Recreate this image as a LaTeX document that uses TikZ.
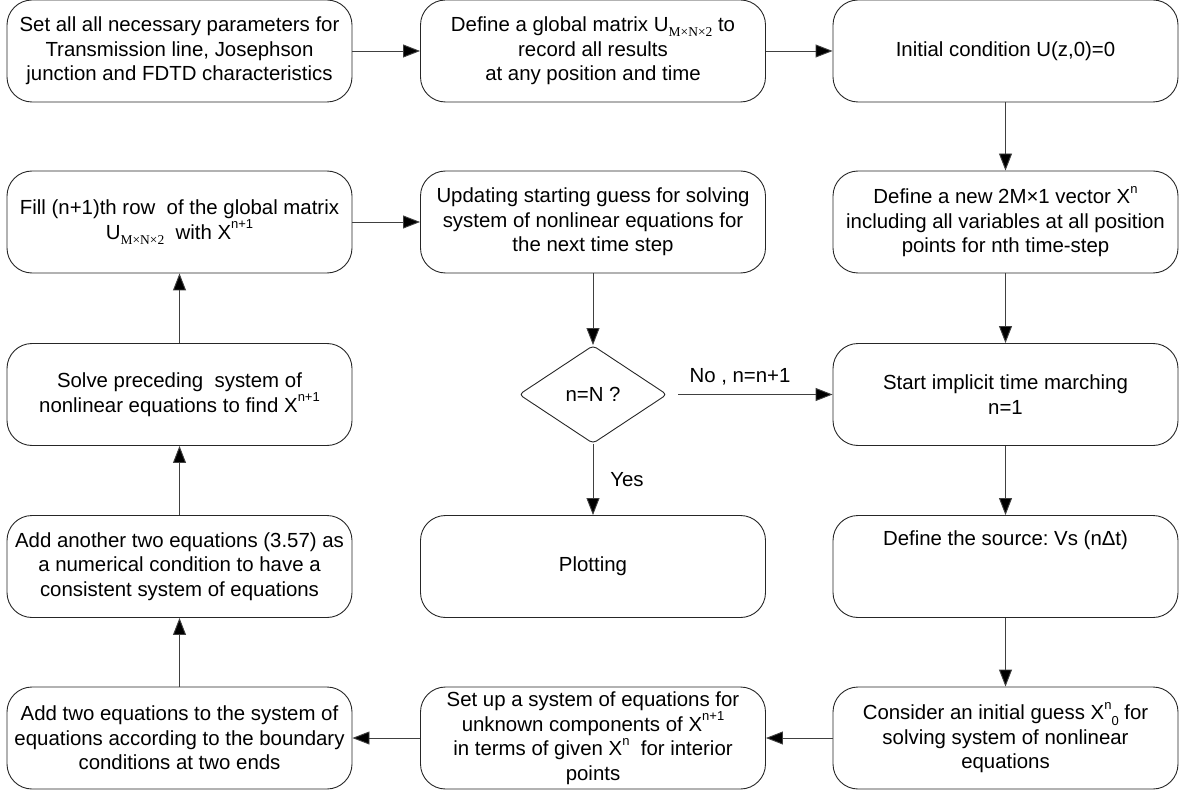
\documentclass[tikz,border=0pt]{standalone}
\usepackage{fontspec}
\setmainfont{Liberation Sans}
\newfontfamily\serifm{Liberation Serif}
\usetikzlibrary{arrows.meta,shapes.geometric}
\frenchspacing

% raised / lowered small text for indices
\newcommand{\sps}[1]{\raisebox{0.5em}{\fontsize{13}{13}\selectfont #1}}
\newcommand{\sbs}[1]{\raisebox{-0.25em}{\fontsize{13}{13}\selectfont #1}}
\newcommand{\umat}{U\raisebox{-0.25em}{\fontsize{13.5}{13.5}\selectfont\serifm M×N×2}}

\begin{document}
\begin{tikzpicture}[x=1pt,y=-1pt,
  txt/.style={font=\fontsize{20.4}{24.5}\selectfont},
  stepbox/.style={txt, draw=black!85, line width=0.9pt, rounded corners=25pt,
    minimum height=102pt, minimum width=345pt, inner sep=1pt, align=center},
  decision/.style={txt, diamond, draw=black!85, line width=0.9pt, rounded corners=4pt,
    minimum width=148pt, minimum height=98pt, inner sep=0pt},
  flow/.style={draw=black!75, line width=0.9pt, -{Triangle[length=17pt,width=13pt,fill=black]}},
  lbl/.style={txt, inner sep=0pt}
]
\useasboundingbox (0,0) rectangle (1183,794);

% left column
\node[stepbox] (params) at (179.5,51) {Set all all necessary parameters for\\Transmission line, Josephson\\junction and FDTD characteristics};
\node[stepbox] (fill) at (179.5,222) {Fill (n+1)th row\ \ of the global matrix\\\umat\ \ with X\sps{n+1}};
\node[stepbox] (solve) at (179.5,394.5) {Solve preceding\ \ system of\\nonlinear equations to find X\sps{n+1}};
\node[stepbox] (extra) at (179.5,566.5) {Add another two equations (3.57) as\\a numerical condition to have a\\consistent system of equations};
\node[stepbox] (bound) at (179.5,738) {Add two equations to the system of\\equations according to the boundary\\conditions at two ends};

% middle column
\node[stepbox] (globalU) at (593,51) {Define a global matrix \umat{} to\\record all results\\at any position and time};
\node[stepbox] (update) at (593,222) {Updating starting guess for solving\\system of nonlinear equations for\\the next time step};
\node[decision] (check) at (593,394.5) {n=N ?};
\node[stepbox] (plot) at (593,566.5) {Plotting};
\node[stepbox] (setup) at (593,738) {Set up a system of equations for\\unknown components of X\sps{n+1}\\in terms of given X\sps{n}\ \ for interior\\points};

% right column
\node[stepbox] (init) at (1005.5,51) {Initial condition U(z,0)=0};
\node[stepbox] (vecX) at (1005.5,222) {Define a new 2M×1 vector X\sps{n}\\including all variables at all position\\points for nth time-step};
\node[stepbox] (march) at (1005.5,394.5) {Start implicit time marching\\n=1};
\node[stepbox] (source) at (1005.5,566.5) {Define the source: Vs (nΔt)\\\strut\\\strut};
\node[stepbox] (guess) at (1005.5,738) {Consider an initial guess X\sps{n}\sbs{0} for\\solving system of nonlinear\\equations};

% connectors
\draw[flow] (params) -- (globalU);
\draw[flow] (globalU) -- (init);
\draw[flow] (init) -- (vecX);
\draw[flow] (vecX) -- (march);
\draw[flow] (march) -- (source);
\draw[flow] (source) -- (guess);
\draw[flow] (guess) -- (setup);
\draw[flow] (setup) -- (bound);
\draw[flow] (bound) -- (extra);
\draw[flow] (extra) -- (solve);
\draw[flow] (solve) -- (fill);
\draw[flow] (fill) -- (update);
\draw[flow] (update) -- (check);
\draw[flow, shorten <=11pt] (check) -- (march);
\draw[flow] (check) -- (plot);

% branch labels
\node[lbl] (nolbl) at (740,377) {No , n=n+1};
\node[lbl] (yeslbl) at (627,480) {Yes};
\end{tikzpicture}
\end{document}
